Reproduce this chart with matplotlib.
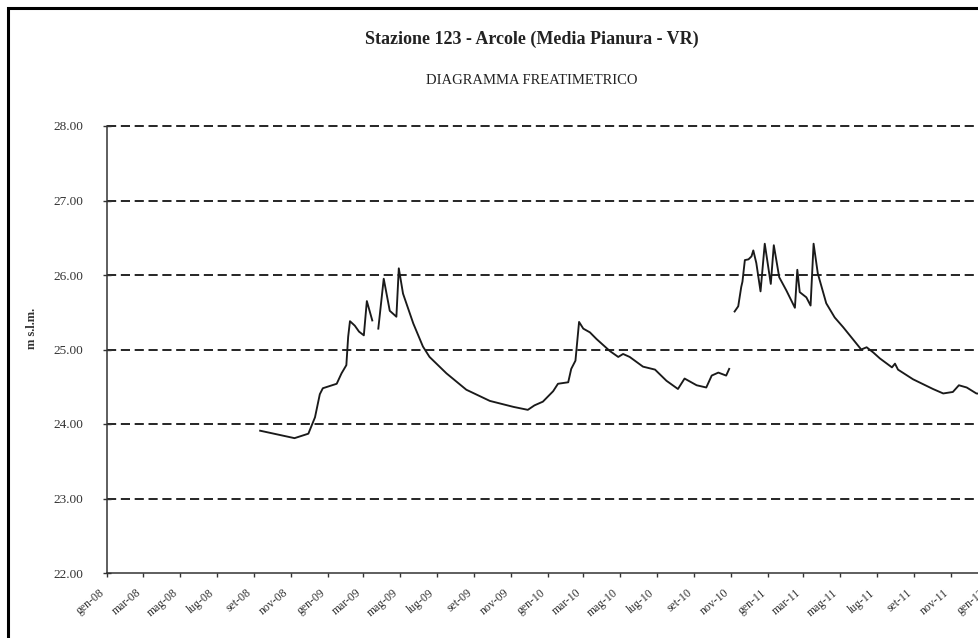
import numpy as np
import pandas as pd
import matplotlib
matplotlib.use("Agg")
import matplotlib.pyplot as plt
from matplotlib.patches import Rectangle

plt.rcParams["font.family"] = ["Liberation Serif", "DejaVu Serif"]

# Livello di falda (m s.l.m.)
dates_1 = [
    "2008-09-11", "2008-11-07", "2008-11-30", "2008-12-11", "2008-12-19", "2008-12-24",
    "2009-01-16", "2009-01-24", "2009-02-01", "2009-02-04", "2009-02-07", "2009-02-15",
    "2009-02-22", "2009-03-02", "2009-03-07", "2009-03-16", "2009-03-20", "2009-03-26",
    "2009-04-04", "2009-04-14", "2009-04-25", "2009-04-29", "2009-05-06", "2009-05-23",
    "2009-06-08", "2009-06-19", "2009-07-17", "2009-08-19", "2009-09-27", "2009-11-05",
    "2009-11-29", "2009-12-10", "2009-12-24", "2010-01-10", "2010-01-18", "2010-02-04",
    "2010-02-09", "2010-02-16", "2010-02-22", "2010-03-01", "2010-03-12", "2010-03-23",
    "2010-04-14", "2010-04-28", "2010-05-06", "2010-05-17", "2010-06-08", "2010-06-28",
    "2010-07-17", "2010-08-05", "2010-08-16", "2010-09-05", "2010-09-21", "2010-09-30",
    "2010-10-11", "2010-10-24", "2010-10-29",
]
level_1 = [
    23.91, 23.81, 23.87, 24.09, 24.40, 24.48,
    24.54, 24.68, 24.79, 25.17, 25.38, 25.32,
    25.24, 25.19, 25.65, 25.39, np.nan, 25.28,
    25.95, 25.52, 25.44, 26.09, 25.75, 25.35,
    25.04, 24.90, 24.68, 24.46, 24.31, 24.23,
    24.19, 24.25, 24.30, 24.44, 24.54, 24.56,
    24.74, 24.85, 25.37, 25.28, 25.23, 25.14,
    24.98, 24.90, 24.94, 24.90, 24.77, 24.73,
    24.58, 24.47, 24.61, 24.52, 24.49, 24.65,
    24.69, 24.65, 24.74,
]

dates_2 = [
    "2010-11-07", "2010-11-13", "2010-11-18", "2010-11-20", "2010-11-24", "2010-11-30",
    "2010-12-05", "2010-12-08", "2010-12-13", "2010-12-20", "2010-12-27", "2011-01-06",
    "2011-01-11", "2011-01-20", "2011-02-01", "2011-02-15", "2011-02-19", "2011-02-23",
    "2011-03-06", "2011-03-13", "2011-03-18", "2011-03-25", "2011-04-08", "2011-04-22",
    "2011-05-06", "2011-05-23", "2011-06-05", "2011-06-14", "2011-06-25", "2011-07-06",
    "2011-07-26", "2011-07-31", "2011-08-05", "2011-08-30", "2011-10-02", "2011-10-19",
    "2011-11-04", "2011-11-14", "2011-11-27", "2011-12-13", "2011-12-28",
]
level_2 = [
    25.51, 25.58, 25.84, 25.91, 26.20, 26.21,
    26.25, 26.33, 26.16, 25.78, 26.42, 25.88,
    26.40, 25.97, 25.79, 25.56, 26.07, 25.77,
    25.70, 25.59, 26.42, 26.02, 25.62, 25.43,
    25.30, 25.13, 25.00, 25.03, 24.96, 24.88,
    24.76, 24.81, 24.73, 24.60, 24.47, 24.41,
    24.43, 24.52, 24.49, 24.41, 24.40,
]

tick_labels = [
    "gen-08", "mar-08", "mag-08", "lug-08", "set-08", "nov-08",
    "gen-09", "mar-09", "mag-09", "lug-09", "set-09", "nov-09",
    "gen-10", "mar-10", "mag-10", "lug-10", "set-10", "nov-10",
    "gen-11", "mar-11", "mag-11", "lug-11", "set-11", "nov-11",
    "gen-12",
]
y_ticks = [22, 23, 24, 25, 26, 27, 28]
grid_levels = [23, 24, 25, 26, 27, 28]

W, H = 979, 638
fig = plt.figure(figsize=(W / 100, H / 100), dpi=100)

# cornice esterna (tagliata a destra e in basso come nell'originale)
fig.patches.append(Rectangle((8 / W, -0.2), 2.0, 1.2 - 8 / H, transform=fig.transFigure,
                             fill=False, lw=2.2, ec="black"))

ax = fig.add_axes([107 / W, 65 / H, (1024 - 107) / W, (573 - 126) / H])

# griglia tratteggiata
for g in grid_levels:
    ax.axhline(g, color="black", lw=1.2, linestyle=(0, (5.5, 2.8)), clip_on=False, zorder=1)

ax.plot(pd.to_datetime(dates_1), level_1, color="#1a1a1a", lw=1.35, zorder=3)
ax.plot(pd.to_datetime(dates_2), level_2, color="#1a1a1a", lw=1.35, zorder=3)

ax.set_xlim(pd.Timestamp("2008-01-01"), pd.Timestamp("2012-03-01"))
ax.set_ylim(22, 28)

tick_dates = pd.date_range("2008-01-01", periods=len(tick_labels), freq="2MS")
ax.set_xticks(tick_dates)
ax.set_xticklabels(tick_labels, rotation=40, ha="right", fontsize=8.5, color="#333333")
ax.tick_params(axis="x", direction="out", length=3, width=1, pad=7, color="#333333")

ax.set_yticks(y_ticks)
ax.set_yticklabels([f"{v:.2f}" for v in y_ticks], fontsize=9.5, color="#333333")
ax.tick_params(axis="y", direction="inout", length=6, width=1, pad=14, color="#333333")

for side in ["top", "right"]:
    ax.spines[side].set_visible(False)
for side in ["left", "bottom"]:
    ax.spines[side].set_color("#333333")
    ax.spines[side].set_linewidth(1.1)

fig.text(32 / W, 1 - 328 / H, "m s.l.m.", rotation=90, ha="center", va="center",
         fontsize=9, fontweight="bold", color="#333333")

fig.text(532 / W, 1 - 44 / H, "Stazione 123 - Arcole (Media Pianura - VR)", ha="center",
         va="baseline", fontsize=13, fontweight="bold", color="#222222")
fig.text(532 / W, 1 - 84 / H, "DIAGRAMMA FREATIMETRICO", ha="center", va="baseline",
         fontsize=10.5, color="#222222")

fig.savefig("out.png", dpi=100)
